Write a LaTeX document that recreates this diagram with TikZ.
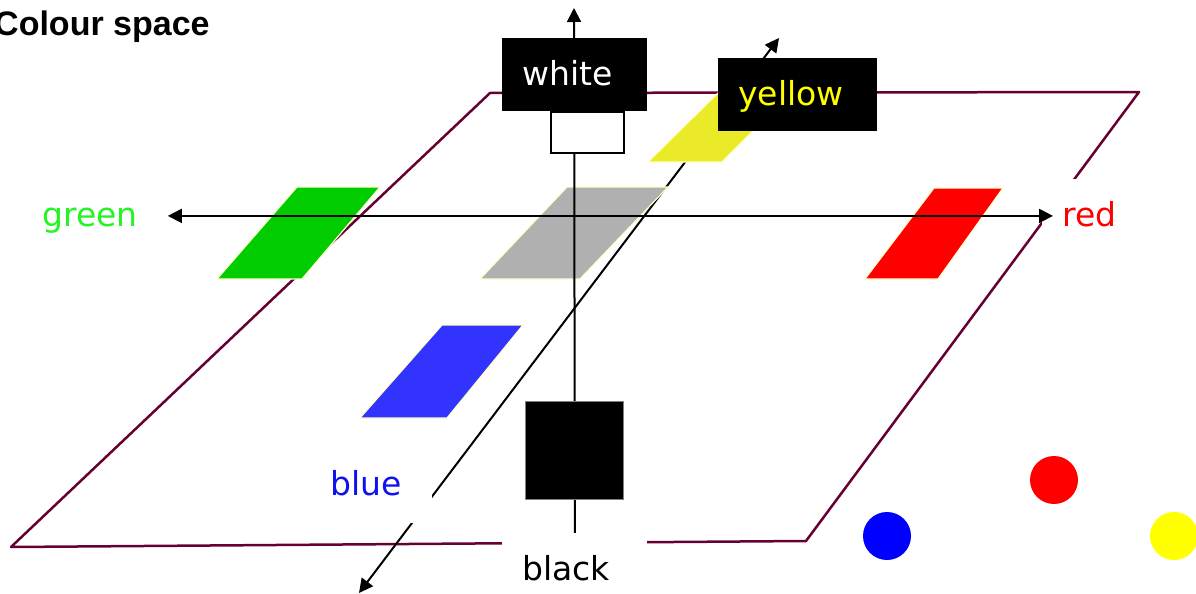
\documentclass[tikz,border=0pt]{standalone}
\usepackage{fontspec}
\setmainfont{DejaVu Sans}
\newfontfamily\titlefont{Liberation Sans}
\usetikzlibrary{arrows.meta}
\pgfdeclarelayer{planeL}
\pgfdeclarelayer{diagL}
\pgfdeclarelayer{shapeL}
\pgfdeclarelayer{axisL}
\pgfdeclarelayer{topL}
\pgfsetlayers{planeL,diagL,shapeL,axisL,main,topL}
\definecolor{planecol}{HTML}{660033}
\definecolor{edgecol}{HTML}{FFFFCC}
\definecolor{pgreen}{HTML}{00CC00}
\definecolor{pgray}{HTML}{B0B0B0}
\definecolor{pred}{HTML}{FF0000}
\definecolor{pblue}{HTML}{3333FF}
\definecolor{pyellow}{HTML}{EAEA28}
\definecolor{tgreen}{HTML}{22F522}
\definecolor{tblue}{HTML}{1010F0}
\definecolor{tyellow}{HTML}{FFFF00}
\begin{document}
\begin{tikzpicture}[x=0.5pt,y=-0.5pt,
  lab/.style={rectangle, inner xsep=10pt, inner ysep=9.5pt, text height=14pt,
    text depth=3.5pt, text width=52.5pt, align=left, anchor=north west,
    font=\fontsize{16.5}{18}\selectfont},
  patch/.style={draw=edgecol, line width=0.6pt, line join=round},
  axis/.style={draw=black, line width=1pt},
  tip/.style={-{Triangle[length=7pt,width=7pt]}},
  tips/.style={{Triangle[length=7pt,width=7pt]}-{Triangle[length=7pt,width=7pt]}},
  dot/.style={circle, minimum size=24pt, inner sep=0pt}]
\useasboundingbox (0,0) rectangle (1196,594);

% title
\node[anchor=base east, inner sep=0pt, font=\titlefont\bfseries\fontsize{17}{20}\selectfont] (title) at (210,35) {Colour space};

% small white box and black square (drawn on main layer)
\node[draw=black, fill=white, line width=0.75pt, minimum width=36.5pt, minimum height=20.5pt, inner sep=0pt, anchor=north west] (wsq) at (550,111) {};
\node[draw=gray, fill=black, line width=0.5pt, minimum width=49pt, minimum height=49pt, inner sep=0pt, anchor=north west] (bsq) at (525,401) {};

% labels
\node[lab, fill=black, text=white] (wlab) at (502,38) {white};
\node[lab, fill=black, text=tyellow, text width=59.5pt] (ylab) at (718,58) {yellow};
\node[lab, fill=white, text=tgreen] (glab) at (22,179) {green};
\node[lab, fill=white, text=pred] (rlab) at (1042,179) {red};
\node[lab, fill=white, text=tblue, text width=41pt, text depth=4.5pt] (bllab) at (310,448) {blue};
\node[lab, fill=white, text=black] (bklab) at (502,533) {black};

% dots
\node[dot, fill=pred] (dr) at (1054,480) {};
\node[dot, fill=blue] (db) at (887,536) {};
\node[dot, fill=tyellow] (dy) at (1174,536) {};

\coordinate (vtop) at (574,8);
\coordinate (dlow) at (359,593);
\coordinate (dup) at (779,38);

\begin{pgfonlayer}{planeL}
\draw[planecol, line width=1.25pt, line join=round] (490,93) -- (1139,92) -- (806,541) -- (11,547) -- cycle;
\end{pgfonlayer}

\begin{pgfonlayer}{diagL}
\draw[axis, tips] (dlow) -- (dup);
\end{pgfonlayer}

\begin{pgfonlayer}{shapeL}
\filldraw[patch, fill=pgreen] (297,187) -- (380,187) -- (302,279) -- (217,279) -- cycle;
\filldraw[patch, fill=pgray] (567,187) -- (668,187) -- (580,279) -- (480,279) -- cycle;
\filldraw[patch, fill=pred] (934,188) -- (1003,188) -- (938,279) -- (865,279) -- cycle;
\filldraw[patch, fill=pblue] (442,325) -- (523,325) -- (447,418) -- (360,418) -- cycle;
\filldraw[patch, fill=pyellow] (718,93) -- (791,93) -- (722,162) -- (648,162) -- cycle;
\end{pgfonlayer}

\begin{pgfonlayer}{axisL}
\draw[axis, tip] (bklab.north) -- (vtop);
\end{pgfonlayer}

\begin{pgfonlayer}{topL}
\draw[axis, tips] (glab.east) -- ([xshift=5.5pt]rlab.west);
\end{pgfonlayer}
\end{tikzpicture}
\end{document}
